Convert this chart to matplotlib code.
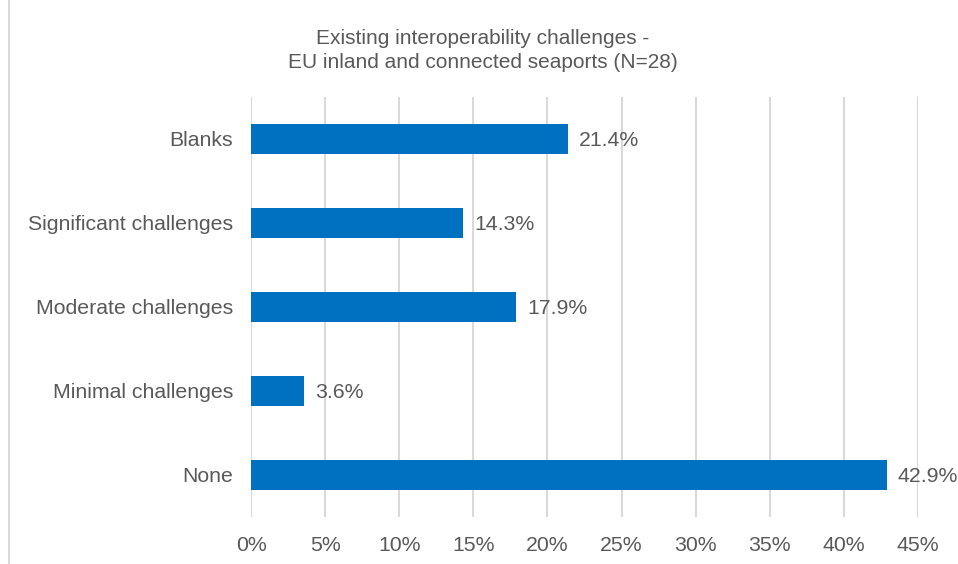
import numpy as np
import matplotlib.pyplot as plt

plt.rcParams['font.family'] = ['Liberation Sans', 'DejaVu Sans']

# data
categories = ['None', 'Minimal challenges', 'Moderate challenges', 'Significant challenges', 'Blanks']
values = [42.9, 3.6, 17.9, 14.3, 21.4]
ticks = [0, 5, 10, 15, 20, 25, 30, 35, 40, 45]

txt = '#595959'
fs = 15.3
fig = plt.figure(figsize=(9.58, 5.64), dpi=100)
ax = fig.add_axes([251/958, 1 - 517/564, (918 - 251)/958, 420/564])

y = np.arange(len(categories))
ax.barh(y, values, height=0.36, color='#0070C0', zorder=3)
for yi, v in zip(y, values):
    ax.text(v + 0.75, yi - 0.02, f'{v:.1f}%', va='center', ha='left', fontsize=fs, color=txt)

ax.set_xlim(0, 45)
ax.set_ylim(-0.5, 4.5)
ax.set_xticks(ticks)
ax.set_xticklabels([f'{t}%' for t in ticks])
ax.set_yticks(y)
ax.set_yticklabels(categories)
ax.tick_params(axis='both', length=0, labelsize=fs, labelcolor=txt)
ax.tick_params(axis='x', pad=14)
ax.tick_params(axis='y', pad=13)
ax.xaxis.grid(True, color='#D9D9D9', linewidth=1.5, zorder=0)
for s in ax.spines.values():
    s.set_visible(False)

fig.text(0.504, 1 - 38/564, 'Existing interoperability challenges -', ha='center', va='center', fontsize=15, color=txt)
fig.text(0.504, 1 - 63/564, 'EU inland and connected seaports (N=28)', ha='center', va='center', fontsize=15, color=txt)

# left border line of the chart frame
fig.add_artist(plt.Line2D([9/958, 9/958], [0, 1], color='#D9D9D9', linewidth=1.5))

fig.savefig('out.png', dpi=100)
